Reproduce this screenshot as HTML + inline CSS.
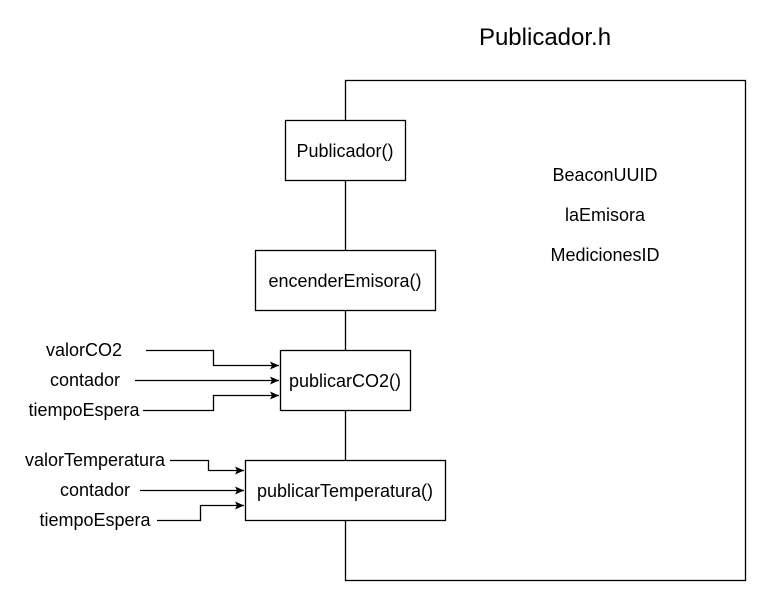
<!DOCTYPE html>
<html><head><meta charset="utf-8"><style>
html,body{margin:0;padding:0;background:#fff;}
svg{display:block;}
text{font-family:"Liberation Sans",Arial,sans-serif;fill:#000;}
</style></head><body>
<svg width="766" height="601" viewBox="0 0 766 601" xmlns="http://www.w3.org/2000/svg">
<defs><marker id="a" markerWidth="10" markerHeight="8" refX="9" refY="4" orient="auto" markerUnits="userSpaceOnUse"><path d="M0,0 L9,4 L0,8 L2,4 Z" fill="#000"/></marker></defs>
<g fill="none" stroke="#000" stroke-width="1.3">
<rect x="345.5" y="80.5" width="400" height="500"/>
<rect x="285.5" y="120.5" width="120" height="60" fill="#fff"/>
<rect x="255.5" y="250.5" width="180" height="60" fill="#fff"/>
<rect x="280.5" y="350.5" width="130" height="60" fill="#fff"/>
<rect x="245.5" y="460.5" width="200" height="60" fill="#fff"/>
<path d="M146,350.5 H213.5 V365.5 H279" marker-end="url(#a)"/>
<path d="M135,380.5 H279" marker-end="url(#a)"/>
<path d="M143,410.5 H213.5 V395.5 H279" marker-end="url(#a)"/>
<path d="M170,460.5 H208.5 V470.5 H244" marker-end="url(#a)"/>
<path d="M140,490.5 H244" marker-end="url(#a)"/>
<path d="M157,520.5 H200.5 V505.5 H244" marker-end="url(#a)"/>
</g>
<g font-size="18" text-anchor="middle">
<text x="545" y="45" font-size="24">Publicador.h</text>
<text x="345" y="157">Publicador()</text>
<text x="345" y="287">encenderEmisora()</text>
<text x="345" y="387">publicarCO2()</text>
<text x="345" y="497">publicarTemperatura()</text>
<text x="605" y="181">BeaconUUID</text>
<text x="605" y="221">laEmisora</text>
<text x="605" y="261">MedicionesID</text>
<text x="84" y="356">valorCO2</text>
<text x="85" y="386">contador</text>
<text x="84" y="416">tiempoEspera</text>
<text x="95" y="466">valorTemperatura</text>
<text x="95" y="496">contador</text>
<text x="95" y="526">tiempoEspera</text>
</g>
</svg>
</body></html>
